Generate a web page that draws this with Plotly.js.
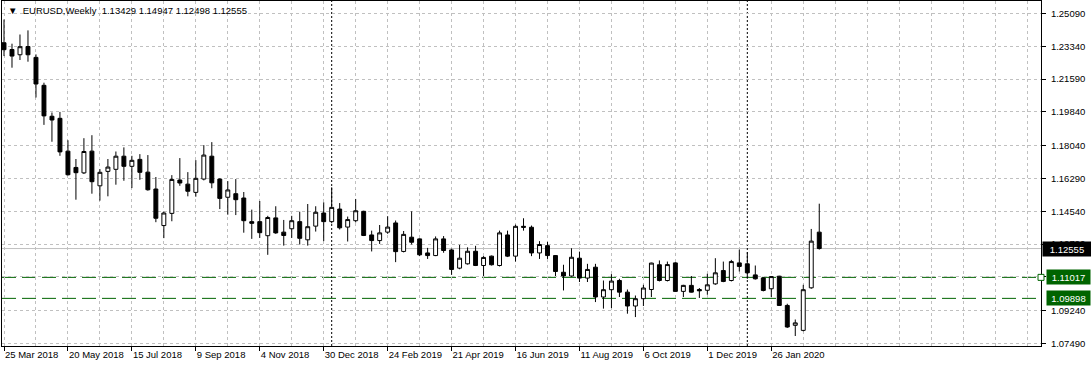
<!DOCTYPE html>
<html>
<head>
<meta charset="utf-8">
<script src="https://cdn.plot.ly/plotly-3.0.1.min.js"></script>
<style>html,body{margin:0;padding:0;background:#fff;}#chart{width:1091px;height:367px;}</style>
</head>
<body>
<div id="chart"></div>
<script>
// Weekly bars (week start, Sunday)
const weeks = [
 '2018-03-25','2018-04-01','2018-04-08','2018-04-15','2018-04-22','2018-04-29','2018-05-06','2018-05-13','2018-05-20','2018-05-27',
 '2018-06-03','2018-06-10','2018-06-17','2018-06-24','2018-07-01','2018-07-08','2018-07-15','2018-07-22','2018-07-29','2018-08-05',
 '2018-08-12','2018-08-19','2018-08-26','2018-09-02','2018-09-09','2018-09-16','2018-09-23','2018-09-30','2018-10-07','2018-10-14',
 '2018-10-21','2018-10-28','2018-11-04','2018-11-11','2018-11-18','2018-11-25','2018-12-02','2018-12-09','2018-12-16','2018-12-23',
 '2018-12-30','2019-01-06','2019-01-13','2019-01-20','2019-01-27','2019-02-03','2019-02-10','2019-02-17','2019-02-24','2019-03-03',
 '2019-03-10','2019-03-17','2019-03-24','2019-03-31','2019-04-07','2019-04-14','2019-04-21','2019-04-28','2019-05-05','2019-05-12',
 '2019-05-19','2019-05-26','2019-06-02','2019-06-09','2019-06-16','2019-06-23','2019-06-30','2019-07-07','2019-07-14','2019-07-21',
 '2019-07-28','2019-08-04','2019-08-11','2019-08-18','2019-08-25','2019-09-01','2019-09-08','2019-09-15','2019-09-22','2019-09-29',
 '2019-10-06','2019-10-13','2019-10-20','2019-10-27','2019-11-03','2019-11-10','2019-11-17','2019-11-24','2019-12-01','2019-12-08',
 '2019-12-15','2019-12-22','2019-12-29','2020-01-05','2020-01-12','2020-01-19','2020-01-26','2020-02-02','2020-02-09','2020-02-16',
 '2020-02-23','2020-03-01','2020-03-08'
];
const openP = [
 1.2353,1.2317,1.2289,1.2333,1.2275,1.2126,1.1961,1.1950,1.1775,1.1688,
 1.1659,1.1775,1.1590,1.1667,1.1678,1.1748,1.1694,1.1731,1.1663,1.1573,
 1.1378,1.1443,1.1621,1.1599,1.1555,1.1626,1.1748,1.1626,1.1529,1.1548,
 1.1525,1.1399,1.1399,1.1324,1.1419,1.1343,1.1361,1.1399,1.1302,1.1375,
 1.1445,1.1399,1.1466,1.1370,1.1404,1.1454,1.1328,1.1298,1.1343,1.1392,
 1.1240,1.1316,1.1307,1.1232,1.1218,1.1307,1.1248,1.1151,1.1174,1.1241,
 1.1165,1.1215,1.1165,1.1328,1.1215,1.1374,1.1369,1.1232,1.1271,1.1218,
 1.1129,1.1109,1.1204,1.1098,1.1156,1.0997,1.1036,1.1085,1.1023,1.0949,
 1.0988,1.1037,1.1169,1.1085,1.1179,1.1027,1.1059,1.1037,1.1033,1.1067,
 1.1138,1.1085,1.1179,1.1174,1.1115,1.1099,1.1041,1.1108,1.0952,1.0846,
 1.0819,1.1046,1.13429
];
const highP = [
 1.2477,1.2348,1.2397,1.2419,1.2291,1.2140,1.1981,1.1984,1.1833,1.1733,
 1.1844,1.1860,1.1679,1.1733,1.1773,1.1795,1.1750,1.1759,1.1754,1.1637,
 1.1452,1.1647,1.1738,1.1663,1.1727,1.1807,1.1823,1.1630,1.1615,1.1626,
 1.1557,1.1463,1.1509,1.1430,1.1481,1.1408,1.1430,1.1452,1.1493,1.1481,
 1.1502,1.1582,1.1498,1.1426,1.1520,1.1457,1.1351,1.1381,1.1428,1.1405,
 1.1349,1.1454,1.1310,1.1259,1.1320,1.1322,1.1255,1.1275,1.1262,1.1270,
 1.1215,1.1218,1.1351,1.1351,1.1383,1.1417,1.1378,1.1295,1.1291,1.1221,
 1.1169,1.1257,1.1239,1.1174,1.1174,1.1085,1.1119,1.1094,1.1037,1.1005,
 1.1062,1.1180,1.1192,1.1186,1.1183,1.1062,1.1109,1.1045,1.1121,1.1204,
 1.1186,1.1195,1.1250,1.1236,1.1165,1.1103,1.1108,1.1110,1.0961,1.0877,
 1.1062,1.1360,1.14947
];
const lowP = [
 1.2282,1.2220,1.2261,1.2252,1.2061,1.1915,1.1825,1.1750,1.1645,1.1516,
 1.1653,1.1548,1.1511,1.1534,1.1596,1.1617,1.1578,1.1622,1.1564,1.1396,
 1.1311,1.1401,1.1590,1.1534,1.1532,1.1619,1.1577,1.1466,1.1436,1.1434,
 1.1340,1.1307,1.1312,1.1222,1.1334,1.1271,1.1312,1.1277,1.1271,1.1346,
 1.1295,1.1390,1.1357,1.1293,1.1395,1.1322,1.1240,1.1280,1.1334,1.1183,
 1.1235,1.1277,1.1215,1.1200,1.1215,1.1233,1.1115,1.1145,1.1170,1.1162,
 1.1109,1.1165,1.1160,1.1210,1.1186,1.1351,1.1215,1.1200,1.1200,1.1109,
 1.1032,1.1105,1.1077,1.1077,1.0970,1.0935,1.0938,1.0997,1.0908,1.0890,
 1.0949,1.0997,1.1080,1.1080,1.1024,1.0997,1.1021,1.0992,1.1009,1.1062,
 1.1076,1.1080,1.1133,1.1094,1.1090,1.1027,1.0997,1.0949,1.0832,1.0789,
 1.0814,1.1041,1.12498
];
const closeP = [
 1.2316,1.2282,1.2332,1.2289,1.2133,1.1963,1.1941,1.1771,1.1649,1.1660,
 1.1773,1.1612,1.1662,1.1690,1.1748,1.1694,1.1726,1.1662,1.1569,1.1417,
 1.1445,1.1624,1.1605,1.1561,1.1630,1.1754,1.1606,1.1523,1.1568,1.1516,
 1.1404,1.1390,1.1340,1.1421,1.1339,1.1325,1.1404,1.1310,1.1372,1.1449,
 1.1399,1.1475,1.1366,1.1410,1.1457,1.1325,1.1298,1.1339,1.1370,1.1239,
 1.1331,1.1289,1.1222,1.1218,1.1307,1.1245,1.1144,1.1204,1.1241,1.1165,
 1.1208,1.1169,1.1339,1.1215,1.1374,1.1369,1.1232,1.1277,1.1218,1.1133,
 1.1109,1.1209,1.1098,1.1144,1.0997,1.1036,1.1082,1.1023,1.0949,1.0988,
 1.1045,1.1178,1.1085,1.1170,1.1027,1.1059,1.1023,1.1030,1.1062,1.1126,
 1.1080,1.1186,1.1160,1.1126,1.1094,1.1032,1.1106,1.0952,1.0837,1.0859,
 1.1036,1.1295,1.12555
];

// Axis labels
const xTickVals = ['2018-03-25','2018-05-20','2018-07-15','2018-09-09','2018-11-04','2018-12-30',
                   '2019-02-24','2019-04-21','2019-06-16','2019-08-11','2019-10-06','2019-12-01','2020-01-26'];
const xTickText = ['25 Mar 2018','20 May 2018','15 Jul 2018','9 Sep 2018','4 Nov 2018','30 Dec 2018',
                   '24 Feb 2019','21 Apr 2019','16 Jun 2019','11 Aug 2019','6 Oct 2019','1 Dec 2019','26 Jan 2020'];
// the grid level near 1.1104 carries no visible label (covered by the level tag in the reference)
const yTickVals = [1.07490,1.09240,1.11040,1.12790,1.14540,1.16290,1.18040,1.19840,1.21590,1.23340,1.25090];
const yTickText = ['1.07490','1.09240','','1.12790','1.14540','1.16290','1.18040','1.19840','1.21590','1.23340','1.25090'];

// Levels and markers
const symbolTitle = 'EURUSD,Weekly';
const lastBar = ['1.13429','1.14947','1.12498','1.12555'];
const bidPrice = 1.12555;
const greenLevels = [1.11017, 1.09898];
const greenLabels = ['1.11017', '1.09898'];
const yearSeparators = ['2019-01-06', '2020-01-05'];

const FONT = 'Liberation Sans, Arial, sans-serif';
const GREEN = '#006400';

const trace = {
  type: 'candlestick',
  x: weeks, open: openP, high: highP, low: lowP, close: closeP,
  increasing: {line: {color: '#000000', width: 1}, fillcolor: '#ffffff'},
  decreasing: {line: {color: '#000000', width: 1}, fillcolor: '#000000'},
  whiskerwidth: 0,
  hoverinfo: 'skip',
  showlegend: false
};

const shapes = [];
shapes.push({type: 'line', xref: 'paper', x0: 0, x1: 1, yref: 'y', y0: bidPrice, y1: bidPrice,
             line: {color: '#c0c0c0', width: 1}, layer: 'below'});
greenLevels.forEach(v => shapes.push({type: 'line', xref: 'paper', x0: 0, x1: 1, yref: 'y', y0: v, y1: v,
             line: {color: GREEN, width: 1, dash: '14px,6px'}, layer: 'below'}));
yearSeparators.forEach(d => shapes.push({type: 'line', xref: 'x', x0: d, x1: d, yref: 'paper', y0: 0, y1: 1,
             line: {color: '#000000', width: 1, dash: '2px,2px'}, layer: 'below'}));
shapes.push({type: 'rect', xref: 'paper', xsizemode: 'pixel', xanchor: 1, x0: -3, x1: 3,
             yref: 'y', ysizemode: 'pixel', yanchor: greenLevels[0], y0: -3, y1: 3,
             line: {color: GREEN, width: 1}, fillcolor: '#ffffff', layer: 'above'});

const annotations = [];
annotations.push({xref: 'paper', yref: 'paper', x: 0, y: 1, xanchor: 'left', yanchor: 'top', xshift: 4, yshift: -2,
  showarrow: false, align: 'left',
  text: '\u25BC\u00a0\u00a0' + symbolTitle + '\u00a0\u00a0' + lastBar.join('\u00a0'),
  font: {family: FONT, size: 9.5, color: '#000000'}});
annotations.push({xref: 'paper', yref: 'y', x: 1, y: bidPrice, xanchor: 'left', yanchor: 'middle', xshift: 1,
  showarrow: false, text: bidPrice.toFixed(5), bgcolor: '#000000', width: 46, height: 12, align: 'center',
  font: {family: FONT, size: 9.5, color: '#ffffff'}});
greenLevels.forEach((v, i) => annotations.push({xref: 'paper', yref: 'y', x: 1, y: v, xanchor: 'left', yanchor: 'middle', xshift: 5,
  showarrow: false, text: greenLabels[i], bgcolor: GREEN, width: 41, height: 12, align: 'center',
  font: {family: FONT, size: 9.5, color: '#ffffff'}}));

const layout = {
  width: 1091, height: 367,
  margin: {l: 2, r: 50, t: 1, b: 21, pad: 0},
  paper_bgcolor: '#ffffff', plot_bgcolor: '#ffffff',
  font: {family: FONT, size: 9.5, color: '#000000'},
  showlegend: false,
  xaxis: {
    type: 'date',
    range: ['2018-03-23 06:00', '2020-09-18 05:00'],
    rangeslider: {visible: false},
    tickmode: 'array', tickvals: xTickVals, ticktext: xTickText,
    ticklabelposition: 'outside right',
    ticks: 'outside', ticklen: 4, tickcolor: '#000000', tickwidth: 1,
    showgrid: true, gridcolor: '#c0c0c0', griddash: '3px,3px', gridwidth: 1,
    minor: {tickmode: 'linear', tick0: '2018-03-25', dtick: 4 * 7 * 86400000, showgrid: true,
            gridcolor: '#c0c0c0', griddash: '3px,3px', gridwidth: 1, ticks: ''},
    showline: true, linecolor: '#000000', linewidth: 1, mirror: true,
    zeroline: false, fixedrange: true,
    tickfont: {family: FONT, size: 9.5, color: '#000000'}
  },
  yaxis: {
    side: 'right',
    range: [1.07357, 1.25757],
    tickmode: 'array', tickvals: yTickVals, ticktext: yTickText,
    ticks: 'outside', ticklen: 4, tickcolor: '#000000', tickwidth: 1,
    ticklabelstandoff: 3,
    showgrid: true, gridcolor: '#c0c0c0', griddash: '3px,3px', gridwidth: 1,
    showline: true, linecolor: '#000000', linewidth: 1, mirror: true,
    zeroline: false, fixedrange: true,
    tickfont: {family: FONT, size: 9.5, color: '#000000'}
  },
  shapes: shapes,
  annotations: annotations
};

Plotly.newPlot('chart', [trace], layout, {staticPlot: true, displayModeBar: false});
</script>
</body>
</html>
